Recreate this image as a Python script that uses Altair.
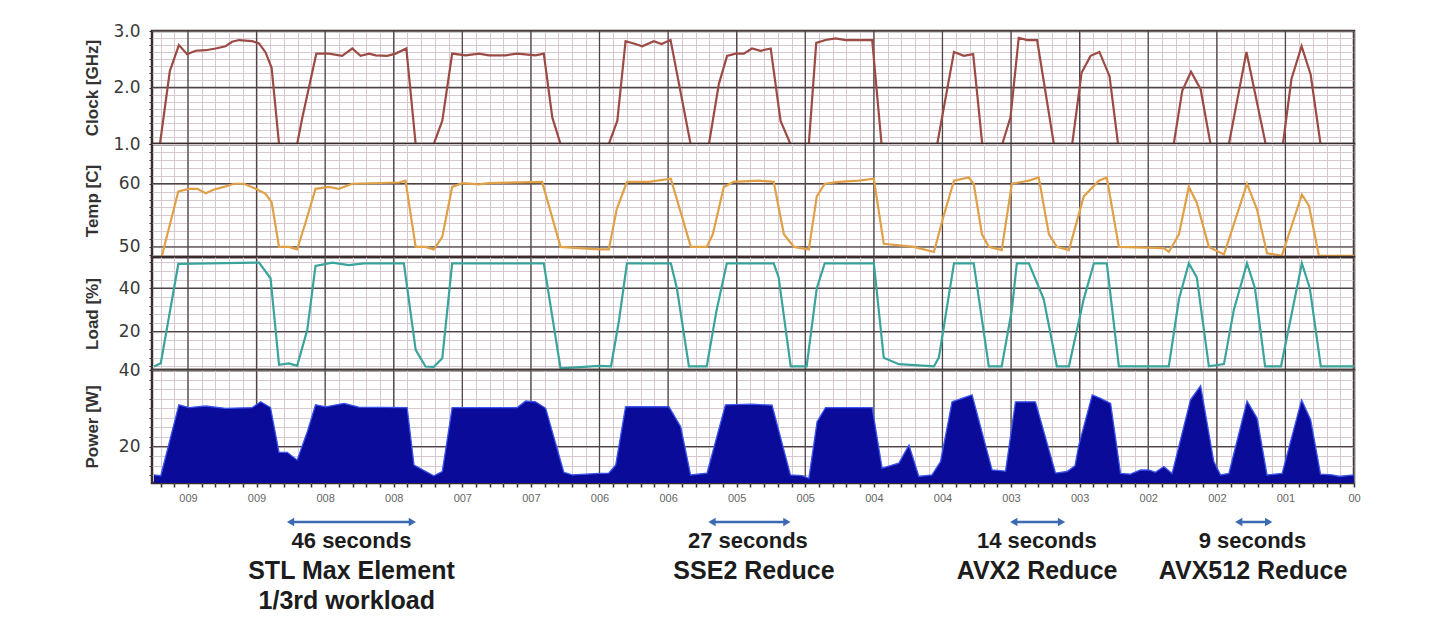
import altair as alt
import pandas as pd

# ---------------- data (time in seconds, 25 s per major gridline) ----------------
tick_labels = ["009", "009", "008", "008", "007", "007", "006", "006", "005",
               "005", "004", "004", "003", "003", "002", "002", "001", "00"]

clock_t = [-13.1, -10.2, -6.6, -3.3, -0.3, 2.8, 6.5, 10.1, 13.7, 16.1, 18.6, 23.4, 25.9, 28.3, 30.5,
           33.2, 39.8, 41.7, 46.8, 51.4, 56.2, 59.9, 62.9, 66.0, 68.4, 72.6, 75.7, 79.6, 83.0,
           89.6, 92.7, 96.3, 101.2, 106.1, 109.7, 115.8, 120.0, 126.7, 129.7, 132.8, 135.8,
           153.4, 156.5, 159.5, 162.5, 165.6, 169.8, 172.6, 175.9, 183.2,
           189.9, 193.5, 196.5, 199.6, 202.6, 205.6, 208.7, 212.4, 216.0, 219.6,
           226.3, 229.0, 232.4, 236.0, 239.7, 249.4, 252.8,
           273.1, 279.2, 282.8, 286.2, 289.5, 296.8, 299.8, 302.8, 305.9, 309.5, 315.6,
           322.3, 325.7, 329.0, 332.2, 335.9, 339.0, 359.3, 362.4, 365.6, 369.1, 372.7,
           379.4, 385.8, 392.8, 399.1, 402.2, 405.9, 409.2, 412.8, 425]
clock_v = [1.0, 1.0, 2.29, 2.75, 2.59, 2.65, 2.66, 2.69, 2.73, 2.81, 2.84, 2.82, 2.78, 2.62, 2.35,
           1.0, 1.0, 1.47, 2.6, 2.6, 2.56, 2.69, 2.56, 2.6, 2.57, 2.56, 2.6, 2.69, 1.0,
           1.0, 1.41, 2.6, 2.57, 2.6, 2.57, 2.57, 2.6, 2.57, 2.6, 1.47, 1.0,
           1.0, 1.41, 2.82, 2.78, 2.73, 2.82, 2.77, 2.84, 1.0,
           1.0, 2.06, 2.56, 2.6, 2.6, 2.69, 2.65, 2.69, 1.41, 1.0,
           1.0, 2.79, 2.84, 2.87, 2.84, 2.84, 1.0,
           1.0, 2.63, 2.56, 2.59, 1.0, 1.0, 1.47, 2.88, 2.84, 2.84, 1.0,
           1.0, 2.26, 2.56, 2.63, 2.2, 1.0, 1.0, 1.94, 2.28, 1.97, 1.0,
           1.0, 2.63, 1.0, 1.0, 2.15, 2.73, 2.23, 1.0, 1.0]

temp_t = [-9.6, -3.5, 0.4, 3.4, 6.5, 9.5, 13.1, 16.8, 20.4, 24.7, 28.3, 30.5, 33.2, 36.8, 39.8,
          42.9, 46.5, 51.4, 55.0, 59.9, 76.9, 79.3, 83.0, 86.6, 89.6, 92.7, 96.3, 100.0, 106.1,
          109.7, 129.1, 135.8, 149.8, 153.4, 156.3, 160.0, 168.0, 176.0, 183.3, 189.1, 191.3,
          195.3, 198.9, 208.0, 213.5, 217.2, 220.9, 226.3, 229.2, 232.1, 237.2, 244.5, 250.0,
          253.6, 264.6, 271.9, 275.5, 279.2, 284.6, 286.4, 289.4, 291.9, 296.6, 300.3, 306.5,
          310.1, 313.8, 316.7, 321.1, 326.5, 332.0, 334.9, 339.3, 355.7, 357.5, 361.2, 364.8,
          367.7, 372.1, 377.6, 386.0, 389.6, 393.3, 398.7, 406.0, 408.6, 412.2, 425]
temp_v = [48.4, 58.8, 59.2, 59.2, 58.5, 59.1, 59.5, 60.0, 60.0, 59.2, 58.4, 57.1, 50.0, 50.0, 49.6,
          53.9, 59.2, 59.5, 59.2, 60.0, 60.2, 60.5, 50.0, 50.0, 49.6, 51.6, 59.5, 60.1, 59.9,
          60.1, 60.3, 50.0, 49.6, 49.6, 56.0, 60.3, 60.3, 60.8, 50.0, 50.0, 52.0,
          59.5, 60.3, 60.5, 60.3, 52.0, 50.0, 49.6, 58.0, 60.0, 60.3, 60.5, 60.8,
          50.5, 50.0, 49.2, 55.0, 60.5, 61.0, 60.0, 52.0, 50.0, 49.5, 60.0, 60.5,
          61.0, 52.0, 50.0, 49.5, 58.0, 60.5, 61.0, 50.0, 49.8, 49.2, 52.0, 59.5,
          57.0, 50.0, 48.8, 60.0, 56.0, 49.0, 48.6, 58.3, 56.5, 48.6, 48.6]

load_t = [-12.4, -9.9, -3.5, 25.9, 30.1, 33.2, 36.8, 39.8, 43.5, 46.5, 52.6, 58.7, 64.1, 78.7,
          83.0, 86.6, 89.6, 92.7, 96.3, 129.7, 135.8, 149.8, 154.2, 157.1, 160.0, 176.0, 178.2,
          182.6, 189.1, 192.7, 196.4, 213.5, 215.3, 219.7, 225.5, 229.2, 232.1, 250.0, 253.6,
          259.1, 271.9, 273.7, 279.2, 286.4, 291.9, 296.6, 300.3, 302.1, 306.5, 311.9, 316.7,
          321.1, 326.5, 330.2, 334.9, 339.3, 357.5, 361.2, 364.8, 367.7, 372.1, 377.6, 381.2,
          386.0, 388.9, 392.6, 398.4, 406.0, 408.9, 412.9, 425]
load_v = [3.9, 5.4, 51.2, 51.8, 44.6, 4.7, 5.3, 4.2, 20.8, 50.3, 51.8, 50.7, 51.5, 51.5,
          11.6, 3.9, 3.7, 7.7, 51.5, 51.5, 3.1, 4.2, 4.0, 25.0, 51.5, 51.5, 40.0,
          4.0, 4.0, 30.0, 51.5, 51.5, 45.0, 4.0, 4.0, 40.0, 51.5, 51.5, 8.0,
          5.0, 4.0, 8.0, 51.5, 51.5, 4.0, 4.0, 30.0, 51.5, 51.5, 35.0, 4.0,
          4.0, 35.0, 51.5, 51.5, 4.0, 4.0, 35.0, 51.5, 45.0, 4.0, 5.0, 30.0,
          51.5, 40.0, 4.0, 4.0, 51.5, 40.0, 4.0, 4.0]

power_t = [-12.4, -9.9, -3.3, 0.4, 6.5, 13.7, 23.4, 26.5, 30.1, 33.2, 36.2, 39.8, 43.5, 46.5,
           50.2, 56.9, 62.3, 79.9, 82.4, 89.6, 92.7, 96.3, 120.0, 123.1, 126.7, 130.4, 137.0,
           140.1, 149.8, 153.4, 155.9, 159.5, 175.3, 179.6, 183.2, 189.2, 195.9, 205.6, 212.9,
           219.6, 223.9, 226.3, 229.3, 232.4, 249.4, 253.0, 259.1, 262.8, 266.4, 271.2, 274.3,
           278.5, 285.8, 293.1, 298.0, 301.6, 308.9, 316.2, 320.4, 323.3, 324.7, 329.6, 332.6,
           336.3, 339.9, 343.5, 347.2, 350.2, 352.6, 355.7, 358.7, 365.4, 369.1, 373.9, 376.4,
           379.4, 386.0, 389.7, 393.3, 398.8, 405.9, 409.2, 412.8, 417.1, 419.6, 425]
power_v = [12.6, 12.4, 30.9, 30.2, 30.6, 30.0, 30.2, 31.7, 30.2, 18.5, 18.5, 16.5, 23.9, 30.9,
           30.4, 31.3, 30.3, 30.2, 15.2, 12.4, 13.5, 30.2, 30.2, 31.9, 31.7, 30.0, 13.3,
           12.6, 13.0, 13.1, 15.2, 30.4, 30.4, 25.2, 12.6, 13.1, 30.9, 31.1, 30.8,
           12.6, 12.4, 11.7, 26.5, 30.2, 30.2, 14.4, 15.7, 20.4, 12.2, 12.6, 16.1,
           31.7, 33.5, 13.9, 13.6, 31.7, 31.7, 13.1, 13.5, 15.0, 20.4, 33.5, 32.6,
           31.3, 13.0, 12.8, 13.9, 13.9, 13.3, 14.8, 13.0, 32.2, 35.9, 16.1, 12.6,
           13.0, 31.9, 27.4, 12.6, 13.0, 32.2, 27.0, 12.8, 12.6, 12.2, 12.6]

arrow_start = [37.4, 191.0, 301.0, 383.0]
arrow_end = [81.8, 218.3, 318.4, 393.9]
dur_text = ["46 seconds", "27 seconds", "14 seconds", "9 seconds"]
dur_x = [59.6, 204.1, 309.4, 388.0]
name_text = ["STL Max Element", "SSE2 Reduce", "AVX2 Reduce", "AVX512 Reduce"]
name_x = [59.6, 206.3, 309.5, 388.2]
extra_text = ["1/3rd workload"]
extra_x = [57.9]

# ---------------- styling ----------------
X_DOMAIN = [-13.1, 425]
W, H = 1202, 113
MAJOR = "#4d4545"
MINOR = "#d6c8ce"
BORDER = "#3a2c2c"
x_minor = list(range(-10, 426, 5))
x_major = list(range(0, 426, 25))
label_js = "[" + ",".join("'%s'" % s for s in tick_labels) + "]"
xs = alt.Scale(domain=X_DOMAIN, nice=False, zero=False)


def x_axis(bottom):
    xt = "datum.value % 25 === 0"
    kw = dict(values=x_minor, grid=True, gridColor=MINOR, gridWidth=1,
              domain=False, title=None)
    if bottom:
        kw.update(labelExpr="%s ? %s[datum.value/25] : ''" % (xt, label_js),
                  labelFont="Liberation Sans", labelFontSize=11, labelColor="#666666",
                  labelOverlap=False, labelFlush=False, labelPadding=5,
                  ticks=True, tickSize=4, tickColor="#333333", tickWidth=1.5)
    else:
        kw.update(labels=False, ticks=False)
    return alt.Axis(**kw)


def y_axis(title, minor, majors, fmt):
    test = " || ".join("datum.value === %s" % m for m in majors)
    return alt.Axis(title=title, values=minor, grid=True, gridColor=MINOR, gridWidth=1,
                    labelExpr="(%s) ? format(datum.value, '%s') : ''" % (test, fmt),
                    labelOverlap=False, labelFont="DejaVu Sans", labelFontSize=17,
                    labelColor="#3a3a3a", labelPadding=9, labelFlush=False,
                    ticks=True, tickSize=3, tickColor="#333333",
                    domain=False, titleFont="Liberation Sans", titleFontSize=17,
                    titleFontWeight="bold", titleColor="#333333", titleX=-60,
                    titleY=H / 2, titleAlign="center", titleBaseline="middle",
                    titleAngle=270)


def frange(start, stop, step):
    out, v = [], start
    while v <= stop + 1e-9:
        out.append(round(v, 4))
        v += step
    return out


def panel(t, v, title, domain, minor, majors, fmt, color, bottom=False, area=False):
    df = pd.DataFrame({"t": t, "v": v})
    ys = alt.Scale(domain=domain, nice=False, zero=False)
    xa = x_axis(bottom)
    ya = y_axis(title, minor, majors, fmt)
    vrules = alt.Chart(pd.DataFrame({"t": x_major})).mark_rule(
        color=MAJOR, strokeWidth=1.3).encode(x=alt.X("t:Q", scale=xs, axis=xa))
    hrules = alt.Chart(pd.DataFrame({"v": majors})).mark_rule(
        color=MAJOR, strokeWidth=1.3).encode(y=alt.Y("v:Q", scale=ys, axis=ya))
    base = alt.Chart(df).encode(
        x=alt.X("t:Q", scale=xs, axis=xa),
        y=alt.Y("v:Q", scale=ys, axis=ya),
    )
    if area:
        ch = base.mark_area(color=color, opacity=1, clip=True,
                            line={"color": "#3b55ee", "strokeWidth": 1.3}).encode(
            y2=alt.datum(domain[0]))
    else:
        ch = base.mark_line(color=color, strokeWidth=2.2, clip=True)
    return alt.layer(vrules, hrules, ch).properties(width=W, height=H)


clock = panel(clock_t, clock_v, "Clock [GHz]", [1.0, 3.0], frange(1.0, 3.0, 0.125),
              [1, 2, 3], ".1f", "#9c4a44")
temp = panel(temp_t, temp_v, "Temp [C]", [48.4, 66.3], frange(48.75, 66.25, 1.25),
             [50, 60], "d", "#e0a048")
load = panel(load_t, load_v, "Load [%]", [2.3, 54.4], frange(4, 52, 4),
             [20, 40], "d", "#3aa39b")
power = panel(power_t, power_v, "Power [W]", [10.5, 40.0], frange(12.5, 40, 2.5),
              [20, 40], "d", "#0b0b99", bottom=True, area=True)

# ---------------- annotation panel ----------------
ys_a = alt.Scale(domain=[0, 130], reverse=True, nice=False, zero=False)
ARROW = "#3b6ab2"
ROW_ARROW, ROW1, ROW2, ROW3 = 39, 58, 88, 118

arrow_df = pd.DataFrame({"x1": arrow_start, "x2": arrow_end, "row": [ROW_ARROW] * 4})
rule = alt.Chart(arrow_df).mark_rule(color=ARROW, strokeWidth=2.5).encode(
    x=alt.X("x1:Q", scale=xs, axis=None), x2="x2:Q",
    y=alt.Y("row:Q", scale=ys_a, axis=None))
head_l = alt.Chart(arrow_df).mark_point(shape="triangle-left", filled=True, size=70,
                                        color=ARROW, opacity=1).encode(
    x=alt.X("x1:Q", scale=xs, axis=None), y=alt.Y("row:Q", scale=ys_a, axis=None))
head_r = alt.Chart(arrow_df).mark_point(shape="triangle-right", filled=True, size=70,
                                        color=ARROW, opacity=1).encode(
    x=alt.X("x2:Q", scale=xs, axis=None), y=alt.Y("row:Q", scale=ys_a, axis=None))

text_rows = pd.concat([
    pd.DataFrame({"x": dur_x, "row": [ROW1] * 4, "txt": dur_text, "size": [22] * 4}),
    pd.DataFrame({"x": name_x, "row": [ROW2] * 4, "txt": name_text, "size": [25] * 4}),
    pd.DataFrame({"x": extra_x, "row": [ROW3], "txt": extra_text, "size": [25]}),
])
texts = alt.Chart(text_rows).mark_text(font="Liberation Sans", fontWeight="bold",
                                       color="#1c1c1c", baseline="middle",
                                       align="center").encode(
    x=alt.X("x:Q", scale=xs, axis=None), y=alt.Y("row:Q", scale=ys_a, axis=None),
    text="txt:N", size=alt.Size("size:Q", scale=None, legend=None))

annot = alt.layer(rule, head_l, head_r, texts).properties(
    width=W, height=130,
    view=alt.ViewBackground(stroke="transparent", fill="transparent"))

chart = alt.vconcat(clock, temp, load, power, annot, spacing=0, bounds="flush").properties(
    padding={"left": 73, "top": 12, "right": 10, "bottom": 0},
    background="white",
).configure_view(stroke=BORDER, strokeWidth=2.5)

chart.save("out.html", embed_options={"renderer": "svg", "actions": False})
